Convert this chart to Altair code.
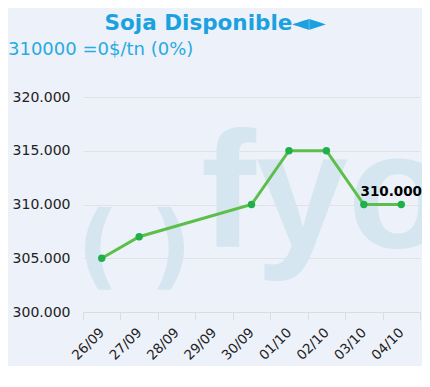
import altair as alt
import pandas as pd

# ---- data ----
fechas = ["26/09", "27/09", "28/09", "29/09", "30/09", "01/10", "02/10", "03/10", "04/10"]
precios = [305000, 307000, None, None, 310000, 315000, 315000, 310000, 310000]
y_ticks = [300000, 305000, 310000, 315000, 320000]
titulo = "Soja Disponible◄►"
subtitulo = "310000 =0$/tn (0%)"
marca = "fyo"
parentesis = ["(", ")"]

rows = [{"fecha": f, "precio": p} for f, p in zip(fechas, precios) if p is not None]
df = pd.DataFrame(rows)
last = df.tail(1).copy()
last["etiqueta"] = last["precio"].map(lambda v: f"{v:,.0f}".replace(",", "."))

W, H = 337, 215
BG = "#edf1f9"
WM = "#d5e6f1"

xscale = alt.Scale(type="band", domain=fechas, paddingInner=0, paddingOuter=0)
yscale = alt.Scale(domain=[300000, 320000], nice=False, zero=False)

x_axis = alt.Axis(
    title=None, grid=False, labelAngle=-45, labelAlign="right", labelBaseline="middle",
    tickBand="extent", tickSize=8, tickColor="#dcdcdc", domainColor="#dcdcdc",
    labelFont="DejaVu Sans", labelFontSize=13.5, labelColor="#222222", labelPadding=10,
)
y_axis = alt.Axis(
    title=None, values=y_ticks,
    labelExpr="replace(format(datum.value, ','), ',', '.')",
    domain=False, ticks=False, gridColor="#e2e2e2",
    labelFont="DejaVu Sans", labelFontSize=14, labelColor="#222222", labelPadding=13,
)

x_enc = alt.X("fecha:O", scale=xscale, axis=x_axis, sort=fechas)
y_enc = alt.Y("precio:Q", scale=yscale, axis=y_axis)

# watermark
wm_df = pd.DataFrame({"t": [marca]})
wm = alt.Chart(wm_df).mark_text(
    font="Liberation Sans", fontWeight="bold", fontSize=165, color=WM,
    align="left", baseline="alphabetic",
).encode(x=alt.value(118), y=alt.value(150), text="t:N")

par_l = alt.Chart(pd.DataFrame({"t": [parentesis[0]]})).mark_text(
    font="DejaVu Sans", fontWeight="bold", fontSize=92, color=WM,
    align="center", baseline="alphabetic",
).encode(x=alt.value(15), y=alt.value(181), text="t:N")
par_r = alt.Chart(pd.DataFrame({"t": [parentesis[1]]})).mark_text(
    font="DejaVu Sans", fontWeight="bold", fontSize=92, color=WM,
    align="center", baseline="alphabetic",
).encode(x=alt.value(88), y=alt.value(181), text="t:N")

base = alt.Chart(df)
line = base.mark_line(color="#5cbf4a", strokeWidth=3).encode(x=x_enc, y=y_enc)
pts = base.mark_point(filled=True, size=55, color="#1fb04a", opacity=1).encode(x=x_enc, y=y_enc)

lbl = alt.Chart(last).mark_text(
    font="DejaVu Sans", fontWeight="bold", fontSize=13.5, color="#000000",
    align="center", baseline="alphabetic", dx=-10, dy=-9,
).encode(x=x_enc, y=y_enc, text="etiqueta:N")

t1 = alt.Chart(pd.DataFrame({"t": [titulo]})).mark_text(
    font="DejaVu Sans", fontWeight="bold", fontSize=21.5, color="#1ba1df",
    align="center", baseline="middle",
).encode(x=alt.value(132), y=alt.value(-73), text="t:N")
t2 = alt.Chart(pd.DataFrame({"t": [subtitulo]})).mark_text(
    font="DejaVu Sans", fontSize=18, color="#29aae2",
    align="left", baseline="middle",
).encode(x=alt.value(-75), y=alt.value(-47), text="t:N")

chart = alt.layer(wm, par_l, par_r, line, pts, lbl, t1, t2).properties(
    width=W, height=H,
    autosize=alt.AutoSizeParams(type="none"),
    padding={"left": 75, "top": 89, "right": 2, "bottom": 54},
    background=BG,
).configure_view(stroke=None)

chart.save("out.html", embed_options={"renderer": "svg", "actions": False})
